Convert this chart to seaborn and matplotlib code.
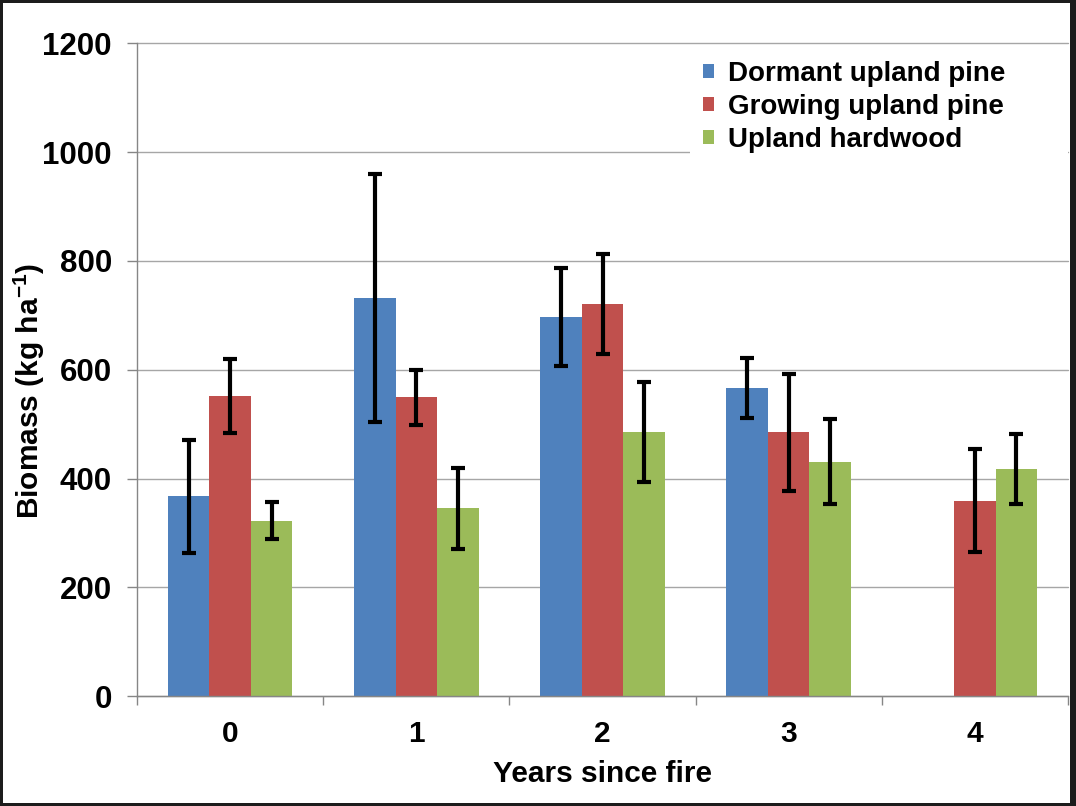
import numpy as np
import pandas as pd
import matplotlib.pyplot as plt
import seaborn as sns
from matplotlib.patches import Rectangle
from matplotlib.container import BarContainer

# -----------------------------
# DATA
# -----------------------------
years = ["0", "1", "2", "3", "4"]
series = ["Dormant upland pine", "Growing upland pine", "Upland hardwood"]
colors = ["#4F81BD", "#C0504D", "#9BBB59"]

dormant = [367, 732, 697, 566, np.nan]
growing = [552, 549, 721, 485, 359]
hardwood = [322, 345, 486, 431, 418]

dormant_err = [104, 228, 90, 55, np.nan]
growing_err = [68, 51, 92, 108, 95]
hardwood_err = [34, 75, 92, 78, 64]

y_ticks = [0, 200, 400, 600, 800, 1000, 1200]

# -----------------------------
# LONG FORM TABLE
# -----------------------------
rows = []
for name, vals, errs in zip(series, [dormant, growing, hardwood],
                            [dormant_err, growing_err, hardwood_err]):
    for yr, v, e in zip(years, vals, errs):
        if not np.isnan(v):
            rows.append({"year": yr, "type": name, "biomass": v, "err": e})
df = pd.DataFrame(rows)

# -----------------------------
# STYLE
# -----------------------------
sns.set_style("white")
plt.rcParams["font.family"] = ["Liberation Sans", "DejaVu Sans"]
plt.rcParams["font.weight"] = "bold"
plt.rcParams["text.color"] = "black"
plt.rcParams["axes.labelcolor"] = "black"
plt.rcParams["xtick.labelcolor"] = "black"
plt.rcParams["ytick.labelcolor"] = "black"
plt.rcParams["mathtext.fontset"] = "custom"
plt.rcParams["mathtext.bf"] = "Liberation Sans:bold"
plt.rcParams["mathtext.rm"] = "Liberation Sans:bold"
plt.rcParams["mathtext.default"] = "bf"

fig = plt.figure(figsize=(10.76, 8.06), dpi=100, facecolor="#1c1c1c")
fig.add_artist(Rectangle((3 / 1076, 3 / 806), 1067 / 1076, 800 / 806,
                         transform=fig.transFigure, facecolor="white",
                         edgecolor="none", zorder=0))
ax = fig.add_axes([137 / 1076, 110 / 806, 931 / 1076, 652.5 / 806])
ax.set_facecolor("white")

sns.barplot(data=df, x="year", y="biomass", hue="type", order=years,
            hue_order=series, palette=colors, width=0.67, errorbar=None,
            saturation=1, linewidth=0, ax=ax, zorder=2)

# error bars placed on the drawn bars
bar_w = 0.67 / len(series)
bars = [b for c in ax.containers if isinstance(c, BarContainer) for b in c]
for bar in bars:
    xc = bar.get_x() + bar.get_width() / 2
    h = bar.get_height()
    if np.isnan(h):
        continue
    cat = int(round(xc))
    hue_i = int(round((xc - cat) / bar_w)) + 1
    sub = df[(df["year"] == years[cat]) & (df["type"] == series[hue_i])]
    if len(sub) == 0:
        continue
    ax.errorbar(xc, h, yerr=sub["err"].iloc[0], fmt="none",
                ecolor="black", elinewidth=3, capsize=5, capthick=3,
                zorder=3)

# -----------------------------
# AXES
# -----------------------------
ax.set_xlim(-0.5, 4.5)
ax.set_ylim(0, 1200)
ax.set_yticks(y_ticks)
ax.set_yticklabels([str(t) for t in y_ticks])
ax.set_xticks(range(len(years)))
ax.set_xticklabels(years)
ax.set_xticks(np.arange(-0.5, 5, 1), minor=True)

ax.yaxis.grid(True, color="#A6A6A6", linewidth=1)
ax.xaxis.grid(False)
ax.set_axisbelow(True)
for gl in ax.get_ygridlines():
    gl.set_clip_on(False)

for s in ["top", "right"]:
    ax.spines[s].set_visible(False)
for s in ["left", "bottom"]:
    ax.spines[s].set_color("#868686")
    ax.spines[s].set_linewidth(1)

ax.tick_params(axis="y", which="major", direction="out", length=7, width=1,
               color="#868686", pad=11, labelsize=22.5, left=True,
               labelcolor="black")
ax.tick_params(axis="x", which="major", length=0, pad=17, labelsize=21.5,
               labelcolor="black")
ax.tick_params(axis="x", which="minor", direction="out", length=6.5,
               width=1, color="#868686", bottom=True)
for lab in ax.get_xticklabels() + ax.get_yticklabels():
    lab.set_fontweight("bold")

ax.set_xlabel("Years since fire", fontsize=21.5, fontweight="bold",
              labelpad=9, color="black")
ax.set_ylabel(r"Biomass (kg ha$^{-1}$)", fontsize=21.5, fontweight="bold",
              color="black")
ax.yaxis.set_label_coords(-0.097, 0.467)

# -----------------------------
# LEGEND
# -----------------------------
leg = ax.legend(loc="upper left", bbox_to_anchor=(0.594, 0.0, 0.406, 0.992),
                mode="expand", frameon=True, fancybox=False, framealpha=1,
                facecolor="white", edgecolor="none", fontsize=20,
                handlelength=0.4, handleheight=0.4, handletextpad=0.5,
                labelspacing=0.25, borderpad=0.45, borderaxespad=0)
for t in leg.get_texts():
    t.set_fontweight("bold")
    t.set_color("black")

plt.savefig("out.png", dpi=100, facecolor=fig.get_facecolor())
plt.close()
